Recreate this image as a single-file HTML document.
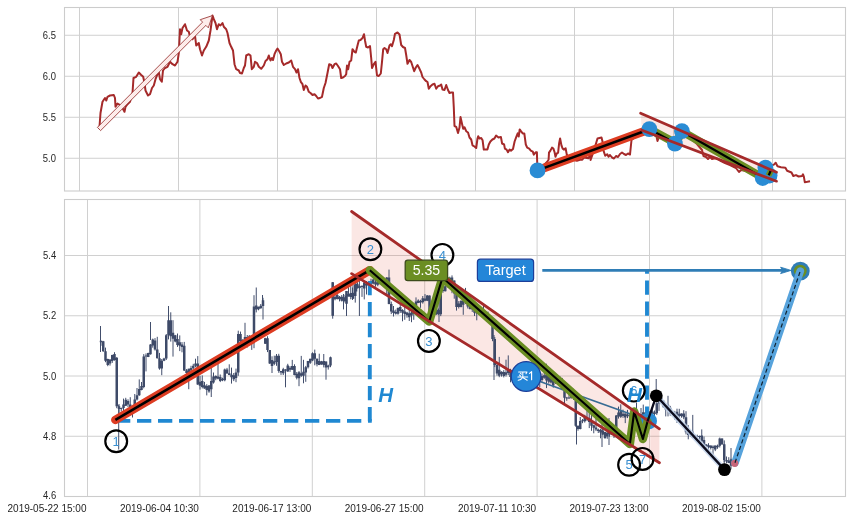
<!DOCTYPE html>
<html><head><meta charset="utf-8"><title>chart</title><style>html,body{margin:0;padding:0;background:#fff;}body{width:852px;height:520px;overflow:hidden;font-family:"Liberation Sans",sans-serif;}</style></head><body>
<svg width="852" height="520" viewBox="0 0 852 520" style="display:block;will-change:transform" font-family="Liberation Sans, sans-serif">
<rect width="852" height="520" fill="#ffffff"/>
<defs><clipPath id="c1"><rect x="64.5" y="7.5" width="781" height="183.5"/></clipPath><clipPath id="c2"><rect x="64.5" y="199.5" width="781" height="297"/></clipPath></defs>
<path d="M79.5 7.5V191.0M178.5 7.5V191.0M277.5 7.5V191.0M376.5 7.5V191.0M475.5 7.5V191.0M574.5 7.5V191.0M673.5 7.5V191.0M772.5 7.5V191.0M64.5 35.25H845.5M64.5 76.25H845.5M64.5 117.25H845.5M64.5 158.25H845.5M87.5 199.5V496.5M199.9 199.5V496.5M312.3 199.5V496.5M424.7 199.5V496.5M537.1 199.5V496.5M649.5 199.5V496.5M761.9 199.5V496.5M64.5 255.50H845.5M64.5 315.75H845.5M64.5 376.00H845.5M64.5 436.25H845.5" stroke="#d0d0d0" stroke-width="1" fill="none"/>
<g clip-path="url(#c1)">
<path d="M99.5 126.8L100.5 113.0L102.5 101.8L105.0 98.0L106.3 100.5L107.5 96.8L110.0 95.5L113.8 95.0L115.0 98.0L115.5 106.8L117.5 103.5L120.0 105.0L122.5 108.0L124.5 111.8L125.5 106.8L127.5 104.2L130.0 101.8L132.5 93.0L133.5 78.0L136.2 76.8L138.8 72.5L141.2 75.0L143.2 76.8L144.5 83.0L145.5 90.5L148.0 95.5L150.0 94.2L152.0 88.0L153.8 85.5L155.5 79.2L157.5 74.2L158.8 71.8L160.0 79.2L161.8 81.8L163.0 70.5L165.0 68.0L167.5 66.8L170.0 61.8L172.5 64.2L175.0 65.5L177.5 61.8L178.8 53.0L180.0 29.2L181.2 34.2L182.5 28.0L185.0 24.2L187.0 30.5L188.8 31.8L190.0 36.8L192.5 39.2L195.0 35.5L196.2 45.5L198.8 43.0L200.0 49.2L202.0 55.5L203.8 50.5L206.2 46.8L208.8 40.5L210.5 30.5L212.5 15.5L213.8 19.2L215.5 23.0L217.0 29.2L218.8 24.2L220.5 25.5L222.5 23.0L223.8 26.8L226.2 29.2L227.5 33.0L229.5 43.0L231.2 46.8L233.0 50.5L234.5 64.2L236.2 69.2L238.8 70.5L240.0 73.0L242.0 73.5L243.8 68.0L245.0 65.5L246.2 55.5L248.8 54.2L250.5 55.5L251.8 69.2L253.8 66.8L255.0 61.8L257.0 63.0L258.8 66.8L261.2 68.8L263.8 65.5L265.5 61.0L267.5 59.2L268.8 55.5L270.5 60.5L272.0 58.0L273.0 60.0L274.5 54.2L276.2 50.5L277.5 48.5L279.5 51.8L280.8 54.2L282.0 61.8L283.8 65.0L286.2 63.5L288.8 62.5L291.2 60.5L293.0 66.8L295.0 69.2L296.5 72.5L298.0 69.2L299.5 78.0L300.8 81.8L302.5 84.2L303.8 90.0L305.5 85.5L307.0 86.8L308.8 91.8L310.5 93.0L312.5 95.0L314.5 94.2L316.2 96.0L318.0 98.5L320.0 98.0L322.0 96.8L323.8 88.0L325.5 83.0L327.5 73.0L329.2 64.2L331.2 65.0L332.5 68.0L334.5 64.2L336.2 63.5L338.0 66.0L340.0 69.2L341.2 78.0L343.0 77.5L345.0 76.0L346.2 74.2L347.0 65.5L348.2 69.2L349.5 61.8L351.2 60.5L352.5 49.2L354.5 51.8L355.8 52.5L357.5 45.5L358.8 40.5L360.5 40.0L362.5 38.0L364.0 34.2L365.0 40.5L366.2 46.8L368.0 47.5L370.0 46.0L371.2 58.0L372.0 68.0L373.8 64.2L375.5 61.8L377.0 75.5L378.8 76.0L380.8 73.5L382.0 61.8L383.2 49.2L384.5 48.0L386.2 49.2L387.5 53.0L389.5 45.5L390.8 44.2L392.0 46.2L393.8 40.0L395.0 33.8L397.5 32.5L399.5 34.5L401.2 45.0L403.0 47.0L405.0 48.0L406.2 55.0L407.5 63.8L409.5 60.0L411.2 62.0L413.0 67.5L414.2 71.2L415.8 67.5L417.5 65.0L419.5 68.8L421.2 72.5L422.5 77.0L424.5 79.5L426.2 81.2L427.5 82.0L428.8 88.8L430.5 86.2L432.5 84.5L434.5 83.8L436.2 88.8L438.0 86.2L440.0 85.5L441.2 84.5L442.5 89.5L444.5 90.0L446.2 85.0L448.0 90.0L449.5 93.0L451.2 92.5L453.0 92.5L453.8 107.5L454.5 126.0L456.2 126.8L458.0 133.0L459.5 127.5L460.5 117.0L462.0 123.8L463.2 128.8L464.5 127.2L466.2 131.2L468.0 132.5L469.5 137.5L471.2 139.5L472.5 145.3L474.5 146.5L476.2 148.0L477.5 138.5L478.2 136.2L479.5 138.6L481.2 138.0L482.6 140.3L483.8 149.5L487.4 149.6L488.8 144.5L490.4 141.5L492.4 139.5L494.4 138.5L496.1 135.5L498.5 137.5L500.9 136.9L502.1 143.5L504.1 144.5L504.9 148.6L506.6 149.6L508.0 152.2L509.6 149.6L511.0 150.6L513.0 149.0L514.6 141.5L516.3 136.9L517.7 133.4L518.7 136.5L519.7 129.4L521.1 131.4L522.7 133.4L524.3 133.4L525.8 144.5L527.2 147.6L529.2 148.6L530.8 150.6L532.8 151.6L533.8 154.6L535.9 152.2L536.9 152.2L537.3 166.0L538.5 170.0L541.0 168.0L544.0 165.0L547.0 162.0L548.6 159.7L549.0 152.6L550.4 150.6L552.0 147.6L553.4 148.6L554.6 152.2L555.5 156.7L556.7 153.6L558.1 152.6L559.1 143.5L560.1 138.5L561.5 145.6L562.7 148.6L564.1 149.6L565.6 148.2L566.8 154.6L568.2 158.7L572.0 159.5L576.9 160.7L580.0 159.8L582.3 159.7L584.0 157.5L588.4 158.3L590.4 154.6L590.6 160.0L592.0 156.0L596.0 143.5L597.5 138.5L601.5 137.5L602.5 141.5L603.5 150.6L605.2 155.7L607.2 154.2L608.6 156.7L610.0 155.0L612.0 157.5L614.0 158.5L616.0 156.0L618.0 157.0L620.0 154.0L622.0 152.5L624.0 154.0L626.0 155.0L628.0 153.5L630.0 154.5L631.5 140.0L634.0 138.0L637.0 136.0L640.0 134.0L644.0 131.0L649.0 129.5L652.0 131.0L656.0 134.5L657.5 141.0L659.0 137.0L662.0 138.0L668.0 141.0L675.0 143.0L679.0 139.0L682.0 132.0L685.0 134.0L690.0 138.0L697.0 144.0L702.0 150.0L703.5 156.0L706.0 157.0L708.0 159.0L710.0 157.0L712.0 159.0L716.0 158.0L720.0 160.5L725.0 163.0L730.0 165.0L736.0 168.0L739.0 172.0L741.0 170.0L746.0 171.0L752.0 174.0L758.0 176.0L762.0 178.0L766.0 172.0L770.0 166.0L773.9 164.6L775.7 162.8L777.5 166.3L781.0 167.2L785.4 167.7L787.1 170.7L791.5 172.5L793.3 176.0L796.0 175.1L798.6 176.5L802.1 176.0L803.0 174.3L803.9 176.9L804.8 182.2L807.4 181.8L810.0 181.3" stroke="#a52a2a" stroke-width="2.0" fill="none" stroke-linejoin="round"/>
<path d="M100.6 130.6L205.9 25.4L208.3 27.8L212.4 15.6L200.2 19.7L202.6 22.1L97.4 127.4Z" fill="#fdecea" stroke="#96302f" stroke-width="0.85" stroke-linejoin="miter"/>
<path d="M640.6 113.2L776.5 172.2L776.5 181.2L641.9 130.2Z" fill="#e24a33" fill-opacity="0.12"/>
<path d="M537.5 170.4L649.6 129.2" stroke="#dd3c22" stroke-width="8.6" stroke-linecap="round"/>
<path d="M537.5 170.4L649.6 129.2" stroke="#000" stroke-width="2.6"/>
<path d="M649.6 129.2L675.6 143.1L682.3 131.5L762.5 177.5" stroke="#6b8e23" stroke-width="8.2" fill="none" stroke-linejoin="round" stroke-linecap="round"/>
<path d="M649.6 129.2L675.6 143.1L682.3 131.5L762.5 177.5" stroke="#000" stroke-width="2.1" fill="none" stroke-linejoin="round"/>
<circle cx="537.5" cy="170.4" r="7.9" fill="#2a8cd4"/>
<circle cx="649.4" cy="129.2" r="7.9" fill="#2a8cd4"/>
<circle cx="674.9" cy="143.6" r="7.9" fill="#2a8cd4"/>
<circle cx="681.9" cy="131.1" r="7.9" fill="#2a8cd4"/>
<circle cx="762.7" cy="178" r="7.9" fill="#2a8cd4"/>
<circle cx="765.4" cy="167.7" r="7.9" fill="#2a8cd4"/>
<circle cx="769.6" cy="175.5" r="7.9" fill="#2a8cd4"/>
<path d="M768.5 175.6L771.4 169.4" stroke="#6b8e23" stroke-width="6" stroke-linecap="butt"/><path d="M768.7 175.2L771.2 169.8" stroke="#000" stroke-width="2.2"/>
<path d="M640.6 113.2L776.5 172.2M641.9 130.2L776.5 181.2" stroke="#a52a2a" stroke-width="2.7" stroke-linecap="round"/>
</g>
<g clip-path="url(#c2)">
<path d="M351.6 211.5L659.4 428.8L659.4 462.7L351.6 273.6Z" fill="#e24a33" fill-opacity="0.135"/>
<path d="M651 423L659.4 428.8L659.4 462.7L651 457.5Z" fill="#e24a33" fill-opacity="0.04"/>
<path d="M101.00 340.7V345.8M103.25 340.9V351.8M105.50 347.6V362.2M107.75 358.7V366.2M110.00 359.3V365.6M112.25 354.7V362.9M114.50 352.2V360.7M116.75 357.1V408.2M119.00 404.0V413.6M121.25 407.6V411.5M123.50 398.6V412.6M125.75 397.8V406.0M128.00 399.3V407.1M130.25 397.2V415.0M132.50 407.7V417.5M134.75 394.0V410.0M137.00 388.0V400.5M139.25 379.4V395.9M141.50 382.0V390.3M143.75 354.1V388.3M146.00 353.4V371.4M148.25 352.7V357.1M150.50 344.2V354.6M152.75 338.6V347.7M155.00 338.1V350.6M157.25 336.8V358.5M159.50 352.9V369.7M161.75 359.0V375.2M164.00 357.8V361.2M166.25 334.0V360.0M168.50 313.2V339.4M170.75 312.3V341.6M173.00 320.2V356.6M175.25 334.9V342.3M177.50 333.5V346.9M179.75 335.4V351.1M182.00 342.1V352.3M184.25 341.9V371.0M186.50 369.1V375.2M188.75 368.7V389.2M191.00 365.8V374.5M193.25 363.8V369.5M195.50 358.7V367.3M197.75 356.1V384.9M200.00 375.8V389.6M202.25 375.4V388.4M204.50 381.9V388.7M206.75 384.2V395.4M209.00 385.0V392.8M211.25 366.0V397.0M213.50 372.5V383.6M215.75 375.4V380.2M218.00 362.0V379.4M220.25 374.5V382.1M222.50 377.7V381.2M224.75 368.6V381.3M227.00 367.9V373.6M229.25 364.3V375.2M231.50 367.6V383.6M233.75 373.0V381.1M236.00 368.6V382.2M238.25 330.7V375.8M240.50 331.6V343.2M242.75 339.2V341.3M245.00 322.8V340.3M247.25 335.0V347.5M249.50 335.3V344.1M251.75 336.7V349.9M254.00 295.2V348.2M256.25 287.5V312.4M258.50 306.7V310.3M260.75 304.0V308.7M263.00 297.8V319.5M265.25 337.8V344.0M267.50 336.3V352.1M269.75 350.0V364.0M272.00 356.3V373.0M274.25 355.7V365.2M276.50 354.0V365.8M278.75 353.8V372.8M281.00 370.9V374.9M283.25 367.8V375.0M285.50 369.2V387.3M287.75 363.8V371.8M290.00 366.1V371.9M292.25 359.9V370.0M294.50 364.3V375.3M296.75 372.0V379.4M299.00 371.1V386.2M301.25 355.9V376.9M303.50 359.8V383.3M305.75 365.9V381.8M308.00 360.9V368.5M310.25 358.8V363.9M312.50 352.3V361.2M314.75 349.6V365.3M317.00 358.5V366.4M319.25 353.7V365.1M321.50 360.9V364.8M323.75 354.0V367.4M326.00 361.4V379.7M328.25 364.7V369.6M330.50 356.6V367.2M332.75 296.5V299.8M335.00 294.7V300.3M337.25 293.7V299.5M339.50 296.0V301.4M341.75 295.0V301.5M344.00 294.8V302.5M346.25 293.6V300.8M348.50 286.6V296.5M350.75 280.1V299.3M353.00 284.9V299.0M355.25 275.5V302.6M357.50 282.2V288.5M359.75 285.6V288.4M362.00 285.2V296.9M364.25 281.3V299.4M366.50 283.4V287.9M368.75 282.7V291.9M371.00 278.7V284.1M373.25 278.6V284.3M375.50 279.8V286.7M377.75 279.3V286.2M380.00 279.2V284.5M382.25 280.6V284.4M384.50 278.0V284.5M386.75 277.0V295.3M389.00 269.6V304.3M391.25 301.6V314.1M393.50 306.0V316.5M395.75 309.6V314.6M398.00 307.4V314.7M400.25 304.7V312.9M402.50 309.2V321.3M404.75 306.9V319.8M407.00 311.8V317.7M409.25 305.8V321.0M411.50 305.9V322.2M413.75 306.0V319.8M416.00 297.4V312.6M418.25 299.3V303.1M420.50 299.8V307.8M422.75 296.0V303.6M425.00 294.1V301.3M427.25 295.0V301.1M429.50 295.5V313.4M431.75 308.7V313.9M434.00 306.8V314.3M436.25 308.2V314.9M438.50 308.5V314.8M440.75 287.2V316.1M443.00 284.7V292.7M445.25 280.5V291.4M447.50 278.1V287.3M449.75 276.7V282.1M452.00 275.4V293.2M454.25 280.5V298.7M456.50 292.7V310.6M458.75 301.1V308.5M461.00 300.1V307.4M463.25 298.8V314.8M465.50 287.9V304.1M467.75 298.1V308.5M470.00 295.8V309.5M472.25 302.5V311.9M474.50 304.7V316.0M476.75 311.3V320.3M479.00 310.4V315.1M481.25 309.1V313.6M483.50 304.6V317.2M485.75 314.2V317.9M488.00 311.6V321.2M490.25 315.9V323.2M492.50 320.6V341.2M494.75 337.0V367.1M497.00 362.8V375.7M499.25 356.9V377.2M501.50 371.3V376.6M503.75 370.1V377.4M506.00 359.7V376.5M508.25 355.4V375.1M510.50 368.8V382.3M512.75 375.1V379.8M515.00 370.0V380.7M517.25 375.1V381.9M519.50 375.3V380.0M521.75 373.0V380.0M524.00 373.3V382.1M526.25 367.1V376.6M528.50 365.0V378.4M530.75 371.2V378.8M533.00 373.8V379.1M535.25 375.9V379.2M537.50 374.0V380.9M539.75 373.3V387.1M542.00 373.5V381.6M544.25 370.9V378.8M546.50 363.7V388.1M548.75 375.0V383.6M551.00 377.1V383.5M553.25 377.4V387.7M555.50 380.1V384.0M557.75 379.4V383.3M560.00 376.4V382.8M562.25 377.9V390.3M564.50 386.1V405.3M566.75 396.9V400.8M569.00 391.3V398.7M571.25 392.8V398.7M573.50 388.8V399.9M575.75 397.4V426.8M578.00 425.6V430.7M580.25 417.0V429.4M582.50 419.0V423.2M584.75 414.8V422.6M587.00 406.9V421.1M589.25 411.5V428.1M591.50 414.3V430.8M593.75 424.6V433.3M596.00 418.1V431.1M598.25 428.6V433.0M600.50 428.8V438.3M602.75 428.9V435.3M605.00 431.7V438.9M607.25 430.5V438.8M609.50 423.8V436.8M611.75 431.7V435.0M614.00 428.8V438.0M616.25 415.0V430.0M618.50 406.6V418.6M620.75 404.3V417.9M623.00 409.6V417.8M625.25 413.5V423.1M627.50 409.9V418.1M629.75 414.0V418.3M632.00 410.2V418.8M634.25 410.4V415.2M636.50 402.6V421.5M638.75 415.4V422.5M641.00 408.0V419.6M643.25 404.6V415.4M645.50 412.0V419.8M647.75 413.8V419.1M650.00 411.0V416.1M652.25 407.1V420.2M654.50 410.5V418.8M656.75 402.3V414.9M659.00 394.5V410.9M661.25 396.9V402.4M663.50 400.1V407.6M665.75 405.1V416.4M668.00 395.8V416.4M670.25 405.9V415.7M672.50 412.4V414.4M674.75 410.9V419.7M677.00 408.7V423.0M679.25 408.8V418.6M681.50 413.4V417.7M683.75 410.2V419.2M686.00 411.2V434.4M688.25 425.1V439.3M690.50 430.2V436.8M692.75 414.9V438.2M695.00 434.7V438.0M697.25 434.7V438.5M699.50 435.6V443.1M701.75 429.4V443.0M704.00 436.5V447.5M706.25 444.0V447.9M708.50 443.2V452.8M710.75 445.5V449.5M713.00 445.3V455.0M715.25 445.6V451.1M717.50 444.6V448.8M719.75 437.6V447.5M722.00 438.3V445.0M724.25 440.4V462.1M726.50 456.5V463.2M728.75 457.2V463.1M731.00 458.7V469.3M343.5 294V309.4M346.5 291V316M352.5 287.5V300M359.4 281V316M366.5 281V294.5M332.7 282V318.7M118.7 405V449.5M168.5 306V330M332.8 287V316M576.5 400V444.5M656.2 379V396M731 448V466M724.2 453V466M494 335V380M602 420V447M100.5 326V352M150.5 322V340M262.5 295V304M439 283V322M609 418V445" stroke="#424e6c" stroke-width="1" fill="none"/>
<path d="M99.75 340.8h2.5v1.5h-2.5zM102.00 341.2h2.5v10.0h-2.5zM104.25 351.2h2.5v9.5h-2.5zM106.50 358.9h2.5v6.0h-2.5zM108.75 359.6h2.5v4.0h-2.5zM111.00 355.1h2.5v6.0h-2.5zM113.25 353.9h2.5v6.0h-2.5zM115.50 357.7h2.5v48.5h-2.5zM117.75 406.2h2.5v2.9h-2.5zM120.00 408.0h2.5v1.1h-2.5zM122.25 404.4h2.5v3.6h-2.5zM124.50 399.8h2.5v6.0h-2.5zM126.75 401.1h2.5v3.5h-2.5zM129.00 404.6h2.5v8.1h-2.5zM131.25 407.9h2.5v6.0h-2.5zM133.50 399.5h2.5v9.6h-2.5zM135.75 395.3h2.5v4.1h-2.5zM138.00 388.9h2.5v6.4h-2.5zM140.25 385.9h2.5v4.0h-2.5zM142.50 356.5h2.5v30.4h-2.5zM144.75 355.6h2.5v1.0h-2.5zM147.00 352.9h2.5v4.0h-2.5zM149.25 344.5h2.5v9.8h-2.5zM151.50 339.5h2.5v6.0h-2.5zM153.75 340.5h2.5v9.0h-2.5zM156.00 349.4h2.5v8.9h-2.5zM158.25 358.3h2.5v10.1h-2.5zM160.50 360.8h2.5v7.7h-2.5zM162.75 358.4h2.5v2.3h-2.5zM165.00 335.3h2.5v23.2h-2.5zM167.25 320.3h2.5v15.0h-2.5zM169.50 320.3h2.5v15.9h-2.5zM171.75 332.7h2.5v6.0h-2.5zM174.00 335.2h2.5v6.4h-2.5zM176.25 338.9h2.5v6.0h-2.5zM178.50 342.3h2.5v3.4h-2.5zM180.75 344.5h2.5v2.5h-2.5zM183.00 345.7h2.5v24.8h-2.5zM185.25 370.6h2.5v2.3h-2.5zM187.50 368.7h2.5v6.0h-2.5zM189.75 368.0h2.5v2.4h-2.5zM192.00 365.7h2.5v2.5h-2.5zM194.25 363.5h2.5v2.3h-2.5zM196.50 363.5h2.5v21.1h-2.5zM198.75 381.8h2.5v4.0h-2.5zM201.00 381.1h2.5v6.0h-2.5zM203.25 385.2h2.5v3.4h-2.5zM205.50 386.1h2.5v4.0h-2.5zM207.75 385.5h2.5v6.0h-2.5zM210.00 381.0h2.5v8.3h-2.5zM212.25 376.5h2.5v6.0h-2.5zM214.50 376.0h2.5v2.5h-2.5zM216.75 376.4h2.5v2.3h-2.5zM219.00 376.9h2.5v4.0h-2.5zM221.25 378.8h2.5v1.5h-2.5zM223.50 369.6h2.5v10.6h-2.5zM225.75 369.4h2.5v4.0h-2.5zM228.00 373.3h2.5v1.8h-2.5zM230.25 374.7h2.5v2.5h-2.5zM232.50 375.3h2.5v4.0h-2.5zM234.75 372.5h2.5v5.4h-2.5zM237.00 334.1h2.5v38.4h-2.5zM239.25 334.1h2.5v6.8h-2.5zM241.50 339.8h2.5v1.2h-2.5zM243.75 337.1h2.5v2.7h-2.5zM246.00 337.1h2.5v2.1h-2.5zM248.25 335.8h2.5v6.0h-2.5zM250.50 338.1h2.5v4.0h-2.5zM252.75 306.6h2.5v35.1h-2.5zM255.00 305.4h2.5v4.0h-2.5zM257.25 306.8h2.5v2.5h-2.5zM259.50 305.8h2.5v2.5h-2.5zM261.75 300.2h2.5v5.8h-2.5zM264.00 338.2h2.5v5.6h-2.5zM266.25 338.2h2.5v11.8h-2.5zM268.50 350.0h2.5v13.4h-2.5zM270.75 360.1h2.5v6.0h-2.5zM273.00 361.2h2.5v2.5h-2.5zM275.25 355.8h2.5v6.3h-2.5zM277.50 355.8h2.5v15.3h-2.5zM279.75 371.0h2.5v1.5h-2.5zM282.00 369.3h2.5v4.0h-2.5zM284.25 369.4h2.5v1.0h-2.5zM286.50 365.6h2.5v6.0h-2.5zM288.75 367.7h2.5v2.1h-2.5zM291.00 366.0h2.5v3.8h-2.5zM293.25 366.0h2.5v9.0h-2.5zM295.50 373.7h2.5v4.0h-2.5zM297.75 372.3h2.5v6.0h-2.5zM300.00 373.3h2.5v2.5h-2.5zM302.25 371.7h2.5v4.0h-2.5zM304.50 367.2h2.5v5.2h-2.5zM306.75 361.1h2.5v6.1h-2.5zM309.00 358.8h2.5v4.0h-2.5zM311.25 353.2h2.5v7.2h-2.5zM313.50 353.2h2.5v5.5h-2.5zM315.75 358.7h2.5v5.5h-2.5zM318.00 360.9h2.5v4.0h-2.5zM320.25 361.6h2.5v2.7h-2.5zM322.50 361.1h2.5v4.0h-2.5zM324.75 361.6h2.5v6.0h-2.5zM327.00 365.4h2.5v1.9h-2.5zM329.25 357.3h2.5v8.1h-2.5zM331.50 297.9h2.5v1.5h-2.5zM333.75 296.7h2.5v2.5h-2.5zM336.00 295.1h2.5v4.0h-2.5zM338.25 296.7h2.5v2.5h-2.5zM340.50 296.8h2.5v4.0h-2.5zM342.75 297.2h2.5v4.0h-2.5zM345.00 295.9h2.5v3.3h-2.5zM347.25 293.9h2.5v2.5h-2.5zM349.50 293.0h2.5v4.0h-2.5zM351.75 292.7h2.5v6.0h-2.5zM354.00 284.6h2.5v11.5h-2.5zM356.25 284.2h2.5v4.0h-2.5zM358.50 286.3h2.5v1.4h-2.5zM360.75 285.9h2.5v1.0h-2.5zM363.00 282.6h2.5v6.0h-2.5zM365.25 284.0h2.5v1.5h-2.5zM367.50 283.2h2.5v2.5h-2.5zM369.75 281.0h2.5v3.0h-2.5zM372.00 279.6h2.5v4.0h-2.5zM374.25 282.2h2.5v2.4h-2.5zM376.50 281.5h2.5v3.2h-2.5zM378.75 281.5h2.5v1.5h-2.5zM381.00 283.0h2.5v1.2h-2.5zM383.25 279.8h2.5v4.4h-2.5zM385.50 277.5h2.5v2.3h-2.5zM387.75 277.5h2.5v26.5h-2.5zM390.00 304.0h2.5v7.6h-2.5zM392.25 310.5h2.5v2.5h-2.5zM394.50 311.9h2.5v1.8h-2.5zM396.75 308.0h2.5v5.7h-2.5zM399.00 307.0h2.5v4.0h-2.5zM401.25 310.0h2.5v2.8h-2.5zM403.50 311.4h2.5v2.5h-2.5zM405.75 312.4h2.5v2.9h-2.5zM408.00 313.3h2.5v4.0h-2.5zM410.25 312.6h2.5v2.8h-2.5zM412.50 311.3h2.5v2.5h-2.5zM414.75 301.6h2.5v10.9h-2.5zM417.00 300.4h2.5v2.5h-2.5zM419.25 301.0h2.5v1.5h-2.5zM421.50 298.3h2.5v4.0h-2.5zM423.75 298.6h2.5v2.1h-2.5zM426.00 295.6h2.5v5.1h-2.5zM428.25 295.6h2.5v17.1h-2.5zM430.50 311.2h2.5v1.5h-2.5zM432.75 310.0h2.5v4.0h-2.5zM435.00 308.4h2.5v6.0h-2.5zM437.25 310.0h2.5v4.3h-2.5zM439.50 289.7h2.5v24.5h-2.5zM441.75 289.7h2.5v1.4h-2.5zM444.00 286.3h2.5v4.9h-2.5zM446.25 279.4h2.5v6.9h-2.5zM448.50 277.8h2.5v2.5h-2.5zM450.75 277.6h2.5v4.0h-2.5zM453.00 280.5h2.5v13.1h-2.5zM455.25 293.6h2.5v13.3h-2.5zM457.50 303.4h2.5v3.6h-2.5zM459.75 301.0h2.5v6.0h-2.5zM462.00 300.8h2.5v4.0h-2.5zM464.25 300.8h2.5v1.0h-2.5zM466.50 300.4h2.5v6.0h-2.5zM468.75 303.0h2.5v6.0h-2.5zM471.00 303.4h2.5v6.0h-2.5zM473.25 306.1h2.5v6.6h-2.5zM475.50 312.4h2.5v1.0h-2.5zM477.75 311.5h2.5v2.5h-2.5zM480.00 311.5h2.5v1.0h-2.5zM482.25 311.6h2.5v5.4h-2.5zM484.50 315.3h2.5v2.5h-2.5zM486.75 316.1h2.5v1.7h-2.5zM489.00 317.8h2.5v5.2h-2.5zM491.25 323.1h2.5v15.8h-2.5zM493.50 338.9h2.5v26.2h-2.5zM495.75 365.0h2.5v8.6h-2.5zM498.00 369.7h2.5v6.0h-2.5zM500.25 371.7h2.5v2.5h-2.5zM502.50 372.1h2.5v4.0h-2.5zM504.75 372.3h2.5v2.5h-2.5zM507.00 369.7h2.5v3.4h-2.5zM509.25 369.7h2.5v7.4h-2.5zM511.50 376.4h2.5v1.0h-2.5zM513.75 376.7h2.5v3.2h-2.5zM516.00 377.3h2.5v4.0h-2.5zM518.25 376.8h2.5v1.9h-2.5zM520.50 374.5h2.5v4.0h-2.5zM522.75 375.3h2.5v1.5h-2.5zM525.00 374.0h2.5v1.9h-2.5zM527.25 370.9h2.5v6.0h-2.5zM529.50 373.5h2.5v4.0h-2.5zM531.75 376.1h2.5v1.5h-2.5zM534.00 376.4h2.5v1.5h-2.5zM536.25 374.8h2.5v6.0h-2.5zM538.50 376.4h2.5v4.0h-2.5zM540.75 376.0h2.5v4.0h-2.5zM543.00 375.2h2.5v2.5h-2.5zM545.25 374.6h2.5v6.0h-2.5zM547.50 375.7h2.5v6.0h-2.5zM549.75 378.1h2.5v4.5h-2.5zM552.00 379.5h2.5v6.0h-2.5zM554.25 380.9h2.5v1.6h-2.5zM556.50 379.5h2.5v1.5h-2.5zM558.75 379.5h2.5v1.7h-2.5zM561.00 381.2h2.5v8.2h-2.5zM563.25 389.4h2.5v8.3h-2.5zM565.50 397.4h2.5v1.0h-2.5zM567.75 397.5h2.5v1.0h-2.5zM570.00 393.7h2.5v4.1h-2.5zM572.25 393.7h2.5v3.8h-2.5zM574.50 397.5h2.5v28.3h-2.5zM576.75 425.8h2.5v3.1h-2.5zM579.00 420.9h2.5v8.0h-2.5zM581.25 420.2h2.5v1.0h-2.5zM583.50 417.2h2.5v4.0h-2.5zM585.75 417.2h2.5v1.5h-2.5zM588.00 417.9h2.5v4.0h-2.5zM590.25 421.7h2.5v4.0h-2.5zM592.50 425.3h2.5v2.5h-2.5zM594.75 427.4h2.5v2.0h-2.5zM597.00 429.4h2.5v1.5h-2.5zM599.25 429.9h2.5v2.5h-2.5zM601.50 430.6h2.5v4.0h-2.5zM603.75 432.1h2.5v6.0h-2.5zM606.00 432.8h2.5v3.6h-2.5zM608.25 432.8h2.5v1.5h-2.5zM610.50 432.2h2.5v2.5h-2.5zM612.75 428.8h2.5v4.0h-2.5zM615.00 415.4h2.5v13.6h-2.5zM617.25 412.5h2.5v4.0h-2.5zM619.50 410.7h2.5v6.0h-2.5zM621.75 413.8h2.5v2.2h-2.5zM624.00 413.6h2.5v4.0h-2.5zM626.25 414.5h2.5v1.5h-2.5zM628.50 415.4h2.5v1.0h-2.5zM630.75 412.3h2.5v6.0h-2.5zM633.00 412.5h2.5v1.7h-2.5zM635.25 412.5h2.5v6.7h-2.5zM637.50 415.5h2.5v6.0h-2.5zM639.75 414.1h2.5v4.0h-2.5zM642.00 412.3h2.5v2.5h-2.5zM644.25 412.4h2.5v4.0h-2.5zM646.50 415.2h2.5v1.5h-2.5zM648.75 411.7h2.5v4.1h-2.5zM651.00 411.2h2.5v2.5h-2.5zM653.25 412.5h2.5v1.5h-2.5zM655.50 403.3h2.5v9.9h-2.5zM657.75 397.8h2.5v5.6h-2.5zM660.00 397.8h2.5v3.0h-2.5zM662.25 400.7h2.5v6.5h-2.5zM664.50 405.5h2.5v4.0h-2.5zM666.75 404.7h2.5v6.0h-2.5zM669.00 407.7h2.5v6.2h-2.5zM671.25 413.0h2.5v1.0h-2.5zM673.50 413.2h2.5v2.3h-2.5zM675.75 411.7h2.5v6.0h-2.5zM678.00 413.7h2.5v2.5h-2.5zM680.25 413.5h2.5v2.5h-2.5zM682.50 413.6h2.5v3.7h-2.5zM684.75 417.3h2.5v15.0h-2.5zM687.00 430.9h2.5v4.0h-2.5zM689.25 432.3h2.5v2.5h-2.5zM691.50 431.7h2.5v6.0h-2.5zM693.75 435.5h2.5v1.0h-2.5zM696.00 436.1h2.5v1.0h-2.5zM698.25 436.1h2.5v1.0h-2.5zM700.50 435.4h2.5v6.0h-2.5zM702.75 439.9h2.5v6.0h-2.5zM705.00 444.5h2.5v1.5h-2.5zM707.25 445.2h2.5v1.7h-2.5zM709.50 445.6h2.5v2.5h-2.5zM711.75 446.6h2.5v1.5h-2.5zM714.00 445.6h2.5v4.0h-2.5zM716.25 445.7h2.5v1.5h-2.5zM718.50 438.6h2.5v7.2h-2.5zM720.75 438.6h2.5v5.7h-2.5zM723.00 444.3h2.5v15.8h-2.5zM725.25 460.0h2.5v1.5h-2.5zM727.50 460.4h2.5v2.5h-2.5zM729.75 459.4h2.5v6.0h-2.5zM331.4 282.3h2.6v33.5h-2.6zM345.2 291h2.6v12.7h-2.6zM354.5 283.5h2.8v8h-2.8z" fill="#3e4a68"/>
<path d="M116 420.9H371.75" stroke="#1f88d2" stroke-width="3.9" fill="none" stroke-dasharray="14.3 6.7"/>
<path d="M369.8 421.3V268" stroke="#1f88d2" stroke-width="3.9" fill="none" stroke-dasharray="14.3 6.7"/>
<path d="M647 420.8V270.4" stroke="#1f88d2" stroke-width="3.9" fill="none" stroke-dasharray="14.3 6.7"/>
<path d="M632.7 416.7H643.5" stroke="#1f88d2" stroke-width="4.6"/>
<path d="M526.1 376.5L648.5 420.5" stroke="#386c94" stroke-width="1.8"/>
<circle cx="648.5" cy="421" r="8.5" fill="#2a8cd4"/>
<path d="M115.4 419.9L369.8 270.2" stroke="#dd3c22" stroke-width="8.6" stroke-linecap="round"/>
<path d="M115.4 419.9L369.8 270.2" stroke="#000" stroke-width="2.6"/>
<path d="M369.8 270.2L429.2 321.5L442.5 277.5L629.9 444L634.2 411.5L642.9 439L647.5 421.5" stroke="#6b8e23" stroke-width="8.4" fill="none" stroke-linejoin="round" stroke-linecap="round"/>
<path d="M369.8 270.2L429.2 321.5L442.5 277.5L629.9 444L634.2 411.5L642.9 439L647.5 421.5" stroke="#000" stroke-width="2.1" fill="none" stroke-linejoin="round"/>
<path d="M351.6 211.5L659.4 428.8M351.6 273.6L659.4 462.7" stroke="#a52a2a" stroke-width="2.8" stroke-linecap="round"/>
<path d="M656.3 395.8L724.5 469.6" stroke="#c3d3ea" stroke-width="5.4" fill="none" stroke-linejoin="round" stroke-opacity="0.85"/>
<path d="M647.5 421.5L656.3 395.8L724.5 469.6" stroke="#0b0b1c" stroke-width="2.3" fill="none" stroke-linejoin="round"/>
<circle cx="656.3" cy="395.8" r="6.4" fill="#000"/><circle cx="724.5" cy="469.6" r="6.4" fill="#000"/>
<path d="M542.3 270.4H783" stroke="#2f7db6" stroke-width="2.7"/>
<path d="M791 270.4L780.6 267.2L782.6 270.4L780.6 273.6Z" fill="#2f7db6" stroke="#2f7db6" stroke-width="0.9" stroke-linejoin="miter"/>
<circle cx="800.3" cy="271.1" r="9.4" fill="#2f7db6"/><circle cx="800.3" cy="271.1" r="6.4" fill="#6b8e23"/>
<path d="M735 462.7L800.3 271.1" stroke="#57a3dc" stroke-width="7.7" stroke-linecap="round"/>
<circle cx="734.7" cy="463.3" r="3.6" fill="#c8667a"/>
<path d="M735 462.7L800.3 271.1" stroke="#10202c" stroke-width="1.2" stroke-dasharray="4.2 2.6"/>
<circle cx="116.2" cy="441.2" r="10.9" fill="none" stroke="#000" stroke-width="2.2"/>
<text x="116.2" y="445.8" font-size="13" fill="#3a8fd0" text-anchor="middle">1</text>
<circle cx="370.4" cy="249.2" r="10.9" fill="none" stroke="#000" stroke-width="2.2"/>
<text x="370.4" y="253.79999999999998" font-size="13" fill="#3a8fd0" text-anchor="middle">2</text>
<circle cx="428.9" cy="340.9" r="10.9" fill="none" stroke="#000" stroke-width="2.2"/>
<text x="428.9" y="345.5" font-size="13" fill="#3a8fd0" text-anchor="middle">3</text>
<circle cx="442.4" cy="254.9" r="10.9" fill="none" stroke="#000" stroke-width="2.2"/>
<text x="442.4" y="259.5" font-size="13" fill="#3a8fd0" text-anchor="middle">4</text>
<circle cx="629.1" cy="464.8" r="10.9" fill="none" stroke="#000" stroke-width="2.2"/>
<text x="629.1" y="469.40000000000003" font-size="13" fill="#3a8fd0" text-anchor="middle">5</text>
<circle cx="633.8" cy="390.6" r="10.9" fill="none" stroke="#000" stroke-width="2.2"/>
<text x="633.8" y="395.20000000000005" font-size="13" fill="#3a8fd0" text-anchor="middle">6</text>
<circle cx="642.5" cy="458.9" r="10.9" fill="none" stroke="#000" stroke-width="2.2"/>
<text x="642.5" y="463.5" font-size="13" fill="#3a8fd0" text-anchor="middle">7</text>
<text x="378.3" y="401.9" font-size="20.5" font-weight="bold" font-style="italic" fill="#1f88d2">H</text>
<text x="627" y="401.5" font-size="20.8" font-weight="bold" font-style="italic" fill="#1f88d2">H</text>
<rect x="405.2" y="260.2" width="42.4" height="20.4" rx="2.6" fill="#6b8e23" stroke="#3d4c1c" stroke-width="1.3"/>
<text x="426.4" y="275" font-size="14.1" fill="#fff" text-anchor="middle">5.35</text>
<rect x="477.4" y="259.2" width="56.2" height="22.2" rx="3" fill="#2486d8" stroke="#1c3f9a" stroke-width="1.2"/>
<text x="505.5" y="275.4" font-size="14.6" fill="#fff" text-anchor="middle">Target</text>
<circle cx="526.1" cy="376.5" r="14.8" fill="#2486d8" stroke="#1c3f9a" stroke-width="1.2"/>
<g stroke="#fff" stroke-width="1.05" fill="none" stroke-linecap="round" stroke-linejoin="round"><path d="M518.6 371.9H527L526 373.7M520.4 373.3l1 .9M519.4 375l1.1 .9M517.9 376.9H527.7M522.8 372.6V376.6C522.5 378.4 520.4 379.7 518.2 380.3M523.5 378L527.2 380.3"/><path d="M529.6 373.4L531.6 371.6V379.7" stroke-width="1.15"/></g>
</g>
<rect x="64.5" y="7.5" width="781.0" height="183.5" fill="none" stroke="#cccccc" stroke-width="1.1"/>
<rect x="64.5" y="199.5" width="781.0" height="297.0" fill="none" stroke="#cccccc" stroke-width="1.1"/>
<text transform="translate(55.9 38.8) scale(0.945 1)" font-size="10" fill="#262626" text-anchor="end">6.5</text>
<text transform="translate(55.9 79.8) scale(0.945 1)" font-size="10" fill="#262626" text-anchor="end">6.0</text>
<text transform="translate(55.9 120.8) scale(0.945 1)" font-size="10" fill="#262626" text-anchor="end">5.5</text>
<text transform="translate(55.9 161.8) scale(0.945 1)" font-size="10" fill="#262626" text-anchor="end">5.0</text>
<text transform="translate(56.2 259.0) scale(0.945 1)" font-size="10" fill="#262626" text-anchor="end">5.4</text>
<text transform="translate(56.2 319.2) scale(0.945 1)" font-size="10" fill="#262626" text-anchor="end">5.2</text>
<text transform="translate(56.2 379.5) scale(0.945 1)" font-size="10" fill="#262626" text-anchor="end">5.0</text>
<text transform="translate(56.2 439.8) scale(0.945 1)" font-size="10" fill="#262626" text-anchor="end">4.8</text>
<text transform="translate(56.2 499.0) scale(0.945 1)" font-size="10" fill="#262626" text-anchor="end">4.6</text>
<text x="86.5" y="511.6" font-size="10" fill="#262626" text-anchor="end">2019-05-22 15:00</text>
<text x="198.9" y="511.6" font-size="10" fill="#262626" text-anchor="end">2019-06-04 10:30</text>
<text x="311.3" y="511.6" font-size="10" fill="#262626" text-anchor="end">2019-06-17 13:00</text>
<text x="423.7" y="511.6" font-size="10" fill="#262626" text-anchor="end">2019-06-27 15:00</text>
<text x="536.1" y="511.6" font-size="10" fill="#262626" text-anchor="end">2019-07-11 10:30</text>
<text x="648.5" y="511.6" font-size="10" fill="#262626" text-anchor="end">2019-07-23 13:00</text>
<text x="760.9" y="511.6" font-size="10" fill="#262626" text-anchor="end">2019-08-02 15:00</text>
</svg>
</body></html>
